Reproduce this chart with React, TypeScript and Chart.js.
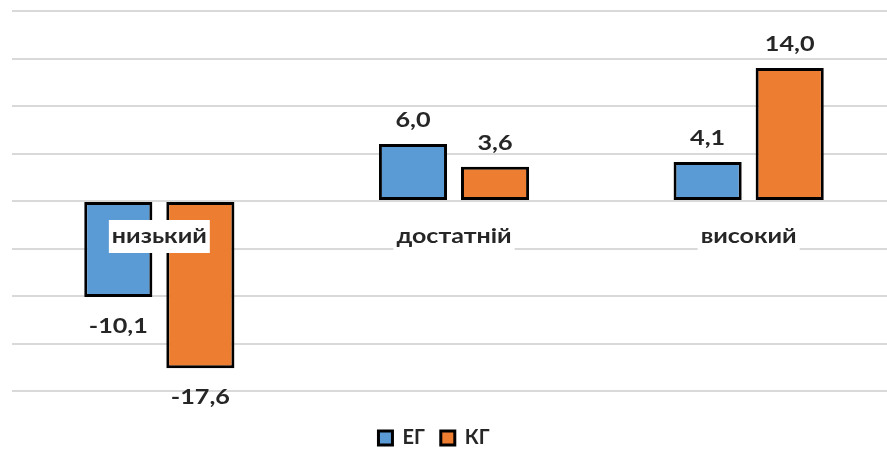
import React, { useEffect, useRef } from "react";
import { Chart, registerables } from "chart.js";

Chart.register(...registerables);

const categories = ["низький", "достатній", "високий"];
const seriesNames = ["ЕГ", "КГ"];
const egValues = [-10.1, 6.0, 4.1];
const kgValues = [-17.6, 3.6, 14.0];
const yTicks = { min: -20, max: 20, step: 5 };

const FONT = "Lato, 'Open Sans', sans-serif";
const TEXT = "#262626";

const fmt = (v: number) => v.toFixed(1).replace(".", ",");

function stretchedText(ctx: any, text: string, x: number, y: number, sx: number) {
  ctx.save();
  ctx.translate(x, y);
  ctx.scale(sx, 1);
  ctx.fillText(text, 0, 0);
  ctx.restore();
}

const labelPlugin = {
  id: "customLabels",
  afterLayout(chart: any) {
    const lg = chart.legend;
    if (lg) {
      lg.right -= 40;
      lg.top += 21;
      lg.bottom += 21;
    }
  },
  afterDatasetsDraw(chart: any) {
    const ctx = chart.ctx;
    const x = chart.scales.x;
    ctx.save();
    ctx.font = `bold 21px ${FONT}`;
    ctx.fillStyle = TEXT;
    ctx.textAlign = "center";
    ctx.textBaseline = "middle";
    chart.data.datasets.forEach((ds: any, di: number) => {
      const meta = chart.getDatasetMeta(di);
      meta.data.forEach((bar: any, i: number) => {
        const v = ds.data[i];
        const y = v >= 0 ? bar.y - 24 : bar.y + 29;
        stretchedText(ctx, fmt(v), bar.x, y, 1.2);
      });
    });
    ctx.font = `bold 20px ${FONT}`;
    categories.forEach((c, i) => {
      const cx = x.getPixelForValue(i);
      const cy = chart.scales.y.getPixelForValue(0) + 36;
      const w = ctx.measureText(c).width * 1.25 + 6;
      ctx.fillStyle = "#ffffff";
      ctx.fillRect(cx - w / 2, cy - 17, w, 33);
      ctx.fillStyle = TEXT;
      stretchedText(ctx, c, cx, cy, 1.25);
    });
    ctx.restore();
  },
};

export default function App() {
  const ref = useRef<HTMLCanvasElement>(null);
  useEffect(() => {
    if (!ref.current) return;
    const chart = new Chart(ref.current, {
      type: "bar",
      data: {
        labels: categories,
        datasets: [
          {
            label: seriesNames[0],
            data: egValues,
            backgroundColor: "#5B9BD5",
            borderColor: "#000000",
            borderWidth: 3,
            borderSkipped: false,
            categoryPercentage: 0.557,
            barPercentage: 0.83,
          },
          {
            label: seriesNames[1],
            data: kgValues,
            backgroundColor: "#ED7D31",
            borderColor: "#000000",
            borderWidth: 3,
            borderSkipped: false,
            categoryPercentage: 0.557,
            barPercentage: 0.83,
          },
        ],
      },
      options: {
        responsive: false,
        animation: false,
        devicePixelRatio: 1,
        layout: { padding: { left: 12, top: 11, right: 0, bottom: 21 } },
        scales: {
          x: { display: false },
          y: {
            min: yTicks.min,
            max: yTicks.max,
            ticks: { stepSize: yTicks.step, display: false },
            grid: { color: "#d9d9d9", lineWidth: 2, drawTicks: false },
            border: { display: false },
          },
        },
        plugins: {
          legend: {
            position: "bottom",
            labels: {
              boxWidth: 14,
              boxHeight: 14,
              padding: 16,
              color: TEXT,
              font: { family: FONT, size: 20, weight: "bold" },
            },
          },
          tooltip: { enabled: false },
        },
      },
      plugins: [labelPlugin],
    });
    return () => chart.destroy();
  }, []);
  return (
    <div
      style={{
        position: "fixed",
        left: 0,
        top: 0,
        width: 887,
        height: 449,
        overflow: "hidden",
        background: "#fff",
      }}
    >
      <canvas ref={ref} width={896} height={458} />
    </div>
  );
}
